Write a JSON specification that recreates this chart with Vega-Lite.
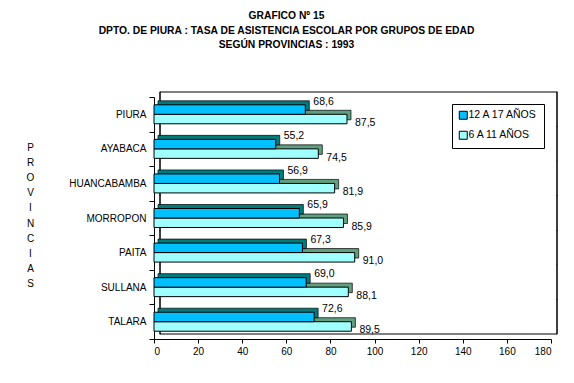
{
  "$schema": "https://vega.github.io/schema/vega-lite/v6.json",
  "width": 397,
  "height": 242,
  "autosize": "none",
  "padding": {"left": 154, "top": 97, "right": 23, "bottom": 44},
  "background": "white",
  "title": {
    "text": ["GRAFICO Nº 15", "DPTO. DE PIURA : TASA DE ASISTENCIA ESCOLAR POR GRUPOS DE EDAD", "SEGÚN PROVINCIAS : 1993"],
    "font": "Liberation Sans", "fontSize": 10.3, "fontWeight": "bold", "color": "black",
    "anchor": "middle", "frame": "group", "dx": -66, "offset": 41, "lineHeight": 14.5
  },
  "config": {
    "view": {"stroke": null},
    "font": "Liberation Sans",
    "locale": {"number": {"decimal": ",", "thousands": ".", "grouping": [3], "currency": ["", ""]}}
  },
  "data": {"values": [
    {"prov": "PIURA", "grupo": "12 A 17 AÑOS", "valor": 68.6},
    {"prov": "PIURA", "grupo": "6 A 11 AÑOS", "valor": 87.5},
    {"prov": "AYABACA", "grupo": "12 A 17 AÑOS", "valor": 55.2},
    {"prov": "AYABACA", "grupo": "6 A 11 AÑOS", "valor": 74.5},
    {"prov": "HUANCABAMBA", "grupo": "12 A 17 AÑOS", "valor": 56.9},
    {"prov": "HUANCABAMBA", "grupo": "6 A 11 AÑOS", "valor": 81.9},
    {"prov": "MORROPON", "grupo": "12 A 17 AÑOS", "valor": 65.9},
    {"prov": "MORROPON", "grupo": "6 A 11 AÑOS", "valor": 85.9},
    {"prov": "PAITA", "grupo": "12 A 17 AÑOS", "valor": 67.3},
    {"prov": "PAITA", "grupo": "6 A 11 AÑOS", "valor": 91.0},
    {"prov": "SULLANA", "grupo": "12 A 17 AÑOS", "valor": 69.0},
    {"prov": "SULLANA", "grupo": "6 A 11 AÑOS", "valor": 88.1},
    {"prov": "TALARA", "grupo": "12 A 17 AÑOS", "valor": 72.6},
    {"prov": "TALARA", "grupo": "6 A 11 AÑOS", "valor": 89.5}
  ]},
  "layer": [
    {
      "data": {"values": [{"a": 0, "b": 180, "p": "PIURA"}]},
      "mark": {"type": "rule", "stroke": "black", "strokeWidth": 1, "xOffset": 6, "x2Offset": 6, "yOffset": -5},
      "encoding": {
        "x": {"field": "a", "type": "quantitative", "scale": {"domain": [0, 180], "nice": false}, "axis": {"values": [0, 20, 40, 60, 80, 100, 120, 140, 160, 180], "title": null, "labelFontSize": 10, "labelColor": "black", "tickSize": 4, "labelPadding": 3, "domainColor": "black", "tickColor": "black", "grid": false, "format": "d"}},
        "x2": {"field": "b"},
        "y": {"field": "p", "type": "nominal", "sort": null, "bandPosition": 0}
      }
    },
    {
      "data": {"values": [{"a": 0, "b": 180, "p": "TALARA"}]},
      "mark": {"type": "rule", "stroke": "black", "strokeWidth": 1, "xOffset": 6, "x2Offset": 6, "yOffset": -5},
      "encoding": {
        "x": {"field": "a", "type": "quantitative"},
        "x2": {"field": "b"},
        "y": {"field": "p", "type": "nominal", "sort": null, "bandPosition": 1}
      }
    },
    {
      "mark": {"type": "tick", "orient": "vertical", "color": "black", "opacity": 1, "thickness": 1, "size": 35, "xOffset": 6, "yOffset": -5},
      "encoding": {
        "x": {"datum": 0, "type": "quantitative"},
        "y": {"field": "prov", "type": "nominal", "sort": null}
      }
    },
    {
      "mark": {"type": "tick", "orient": "vertical", "color": "black", "opacity": 1, "thickness": 1, "size": 35, "xOffset": 6, "yOffset": -5},
      "encoding": {
        "x": {"datum": 180, "type": "quantitative"},
        "y": {"field": "prov", "type": "nominal", "sort": null}
      }
    },
    {
      "transform": [{"filter": "datum.grupo == '6 A 11 AÑOS'"}],
      "mark": {"type": "bar", "height": 9.5, "xOffset": 4, "x2Offset": 4, "yOffset": 0.75, "stroke": "black", "strokeWidth": 0.7, "fill": "#609F80"},
      "encoding": {
        "y": {"field": "prov", "type": "nominal", "sort": null, "scale": {"domain": ["PIURA", "AYABACA", "HUANCABAMBA", "MORROPON", "PAITA", "SULLANA", "TALARA"], "paddingInner": 0, "paddingOuter": 0},
          "axis": {"title": ["P", "R", "O", "V", "I", "N", "C", "I", "A", "S"], "titleAngle": 0, "titleX": -124, "titleY": 45, "titleAlign": "center", "titleBaseline": "top", "titleFontSize": 10, "titleFontWeight": "normal", "titleColor": "black", "titleLineHeight": 15.2, "labelFontSize": 10, "labelColor": "black", "tickBand": "extent", "tickColor": "black", "domainColor": "black", "tickSize": 5, "labelPadding": 3}},
        "x": {"field": "valor", "type": "quantitative"}
      }
    },
    {
      "transform": [{"filter": "datum.grupo == '6 A 11 AÑOS'"}],
      "mark": {"type": "bar", "height": 9.5, "yOffset": 4.75, "stroke": "black", "strokeWidth": 1},
      "encoding": {
        "y": {"field": "prov", "type": "nominal", "sort": null},
        "x": {"field": "valor", "type": "quantitative"},
        "color": {"field": "grupo", "type": "nominal", "scale": {"domain": ["12 A 17 AÑOS", "6 A 11 AÑOS"], "range": ["#00C0FF", "#A0FFFF"]},
          "legend": {"title": null, "orient": "none", "legendX": 298, "legendY": 7, "strokeColor": "black", "fillColor": "white", "padding": 6, "symbolType": "square", "symbolSize": 64, "symbolStrokeColor": "black", "symbolStrokeWidth": 1, "labelFontSize": 10.5, "labelOffset": 0, "rowPadding": 7, "labelColor": "black"}}
      }
    },
    {
      "transform": [{"filter": "datum.grupo == '12 A 17 AÑOS'"}],
      "mark": {"type": "bar", "height": 9.5, "xOffset": 4, "x2Offset": 4, "yOffset": -8.75, "stroke": "black", "strokeWidth": 0.7, "fill": "#007A7A"},
      "encoding": {
        "y": {"field": "prov", "type": "nominal", "sort": null},
        "x": {"field": "valor", "type": "quantitative"}
      }
    },
    {
      "transform": [{"filter": "datum.grupo == '12 A 17 AÑOS'"}],
      "mark": {"type": "bar", "height": 9.5, "yOffset": -4.75, "stroke": "black", "strokeWidth": 1},
      "encoding": {
        "y": {"field": "prov", "type": "nominal", "sort": null},
        "x": {"field": "valor", "type": "quantitative"},
        "color": {"field": "grupo", "type": "nominal", "scale": {"domain": ["12 A 17 AÑOS", "6 A 11 AÑOS"], "range": ["#00C0FF", "#A0FFFF"]}}
      }
    },
    {
      "transform": [{"filter": "datum.grupo == '12 A 17 AÑOS'"}],
      "mark": {"type": "text", "align": "left", "baseline": "middle", "dx": 8, "dy": -12.75, "fontSize": 10.5, "color": "black"},
      "encoding": {
        "y": {"field": "prov", "type": "nominal", "sort": null},
        "x": {"field": "valor", "type": "quantitative"},
        "text": {"field": "valor", "type": "quantitative", "format": ".1f"}
      }
    },
    {
      "transform": [{"filter": "datum.grupo == '6 A 11 AÑOS'"}],
      "mark": {"type": "text", "align": "left", "baseline": "middle", "dx": 8, "dy": 8.75, "fontSize": 10.5, "color": "black"},
      "encoding": {
        "y": {"field": "prov", "type": "nominal", "sort": null},
        "x": {"field": "valor", "type": "quantitative"},
        "text": {"field": "valor", "type": "quantitative", "format": ".1f"}
      }
    }
  ]
}
